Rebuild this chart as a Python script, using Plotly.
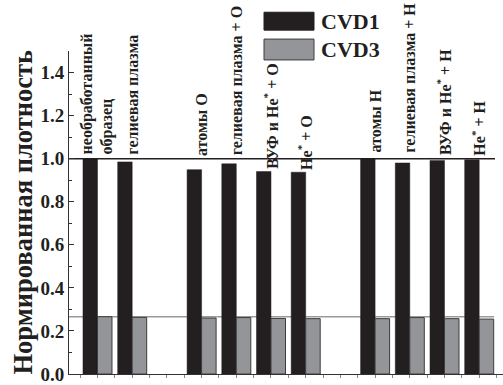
import plotly.graph_objects as go

# Treatment labels (one per bar pair)
labels = [
    "необработанный<br>образец",
    "гелиевая плазма",
    "атомы O",
    "гелиевая плазма + O",
    "ВУФ и He<sup>*</sup> + O",
    "He<sup>*</sup> + O",
    "атомы H",
    "гелиевая плазма + H",
    "ВУФ и He<sup>*</sup> + H",
    "He<sup>*</sup> + H",
]

# Normalized density for the two films
cvd1 = [1.000, 0.985, 0.949, 0.976, 0.940, 0.937, 0.998, 0.980, 0.992, 0.995]
cvd3 = [0.266, 0.263, 0.260, 0.262, 0.258, 0.257, 0.257, 0.262, 0.257, 0.255]

series_names = ["CVD1", "CVD3"]

# ---- layout helpers -------------------------------------------------------
# bars are arranged in three blocks (reference, oxygen, hydrogen) separated by an empty slot
block_sizes = [2, 4, 4]
positions = []
slot = 0
for size in block_sizes:
    positions.extend(range(slot, slot + size))
    slot += size + 1

# baseline of each rotated label (data units)
label_base = [1.015, 1.015, 1.008, 1.012, 0.948, 0.944, 1.022, 1.022, 1.015, 1.008]

FONT = "Liberation Serif"
DARK = "#231f20"
GREY = "#939598"

x_range = [-0.821, 11.686]

fig = go.Figure()
fig.add_trace(go.Bar(
    x=positions, y=cvd1, name=series_names[0],
    marker=dict(color=DARK, line=dict(color=DARK, width=0.5)),
))
fig.add_trace(go.Bar(
    x=positions, y=cvd3, name=series_names[1],
    marker=dict(color=GREY, line=dict(color="#3c3c3c", width=1)),
))

# reference levels taken from the untreated sample
shapes = [
    dict(type="line", xref="x", yref="y", x0=x_range[0], x1=11.455,
         y0=cvd1[0], y1=cvd1[0], line=dict(color=DARK, width=1.5), layer="below"),
    dict(type="line", xref="x", yref="y", x0=x_range[0], x1=11.43,
         y0=cvd3[0], y1=cvd3[0], line=dict(color="#9a9a9a", width=1.5), layer="below"),
]

# legend swatches
px_w, px_h, left, top = 434, 325, 69, 51
def px_x(v):
    return (v - left) / px_w
def px_y(v):
    return 1 - (v - top) / px_h

swatches = [(DARK, DARK, 12, 30), (GREY, "#3c3c3c", 39, 60)]
for fill, edge, y0, y1 in swatches:
    shapes.append(dict(type="rect", xref="paper", yref="paper",
                       x0=px_x(264), x1=px_x(314), y0=px_y(y1), y1=px_y(y0),
                       fillcolor=fill, line=dict(color=edge, width=1)))

bold = dict(family=FONT, color=DARK, weight="bold")

annotations = []
for name, (_, _, y0, y1) in zip(series_names, swatches):
    annotations.append(dict(
        xref="paper", yref="paper", x=px_x(319), y=px_y((y0 + y1) / 2),
        xanchor="left", yanchor="middle", showarrow=False,
        text=f"<b>{name}</b>", font=dict(bold, size=22),
    ))

for pos, text, base in zip(positions, labels, label_base):
    annotations.append(dict(
        x=pos, y=base, xref="x", yref="y", xanchor="center", yanchor="bottom",
        text=f"<b>{text}</b>", textangle=-90, align="left", showarrow=False,
        borderpad=0, font=dict(bold, size=16),
    ))

annotations.append(dict(
    xref="paper", yref="paper", x=px_x(22), y=0.5, xanchor="center", yanchor="middle",
    text="<b>Нормированная плотность</b>", textangle=-90, showarrow=False,
    font=dict(bold, size=26.5),
))

fig.update_layout(
    width=503, height=385,
    margin=dict(l=69, r=0, t=51, b=9),
    paper_bgcolor="white", plot_bgcolor="rgba(0,0,0,0)",
    barmode="group", bargap=0.164, bargroupgap=0,
    showlegend=False,
    shapes=shapes, annotations=annotations,
    xaxis=dict(
        range=x_range, showgrid=False, zeroline=False, showticklabels=False,
        showline=True, linecolor="#333333", linewidth=1,
        ticks="outside", ticklen=3, tickcolor="#888888", tick0=0, dtick=0.5,
    ),
    yaxis=dict(
        range=[0, 1.5], showgrid=False, zeroline=False,
        showline=True, linecolor="#333333", linewidth=1,
        ticks="inside", ticklen=5, tickcolor="#333333", tick0=0, dtick=0.2,
        tickformat=".1f", ticklabeloverflow="allow",
        tickfont=dict(bold, size=19),
        minor=dict(ticks="inside", ticklen=3, tickcolor="#333333", dtick=0.1, tick0=0),
    ),
)

fig.write_html("out.html")
